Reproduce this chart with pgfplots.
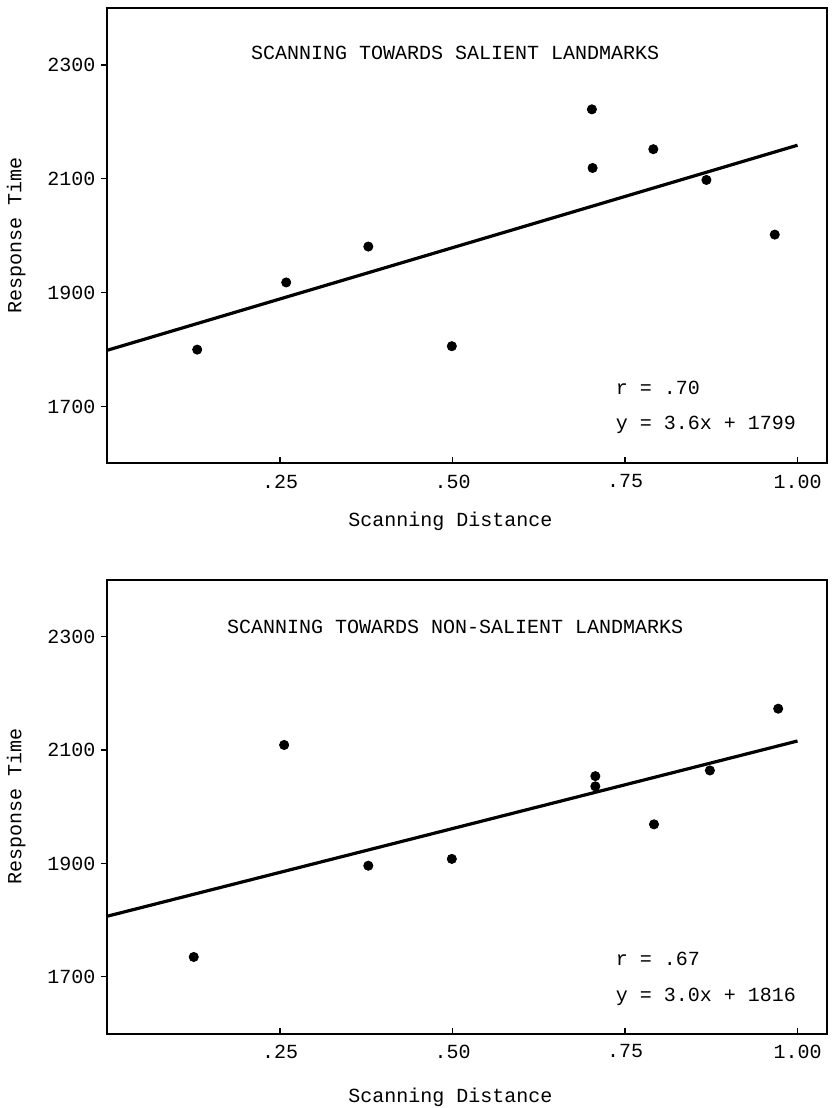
\documentclass[border=0pt]{standalone}
\usepackage{fontspec}
\setmainfont{Liberation Mono}
\usepackage{pgfplots}
\pgfplotsset{compat=1.18}

\pgfplotstableread{
x y
0.130 1800
0.259 1918
0.378 1981
0.499 1806
0.702 2222
0.703 2119
0.791 2152
0.868 2098
0.967 2002
}\salient

\pgfplotstableread{
x y
0.125 1735
0.256 2109
0.378 1896
0.499 1908
0.707 2054
0.707 2036
0.792 1969
0.873 2064
0.972 2173
}\nonsalient

\pgfplotsset{
  panel/.style={
    scale only axis,
    width=359.5pt,
    xmin=0, xmax=1.042,
    ymin=1600, ymax=2400,
    axis line style={line width=1pt},
    xtick={0.25,0.5,0.75,1.0},
    xticklabels={.25,.50,.75,1.00},
    ytick={1700,1900,2100,2300},
    yticklabels={1700,1900,2100,2300},
    xtick pos=bottom, ytick pos=left,
    xtick align=inside, ytick align=outside,
    major tick length=3pt,
    tick style={line width=0.6pt,black},
    /pgf/number format/assume math mode=true,
    tick label style={font=\fontsize{10}{12}\selectfont},
    label style={font=\fontsize{10}{12}\selectfont},
    yticklabel style={anchor=east, xshift=0.5pt},
    xticklabel style={anchor=center, yshift=-9pt},
    ylabel={Response Time},
    ylabel style={at={(axis description cs:-0.127,0.5)}, anchor=center},
    xlabel={Scanning Distance},
    clip=false,
  },
}

\begin{document}
\begin{tikzpicture}
\path[use as bounding box] (0,0) rectangle (415.5pt,554pt);

\begin{axis}[panel,
  at={(53.75pt,322.25pt)}, anchor=south west,
  height=227.75pt,
  xlabel style={at={(axis description cs:0.477,-0.128)}, anchor=center},
]
\addplot[only marks, mark=*, mark size=2.3pt, black] table[x=x,y=y] {\salient};
\addplot[black, line width=1.6pt] coordinates {(0,1799) (1.0,2159)};
\node[font=\fontsize{10}{12}\selectfont] at (axis cs:0.504,2321) {SCANNING TOWARDS SALIENT LANDMARKS};
\node[anchor=west, font=\fontsize{10}{12}\selectfont, inner sep=0pt] at (axis cs:0.736,1733) {r = .70};
\node[anchor=west, font=\fontsize{10}{12}\selectfont, inner sep=0pt] at (axis cs:0.736,1668) {y = 3.6x + 1799};
\end{axis}

\begin{axis}[panel,
  at={(53.75pt,37.25pt)}, anchor=south west,
  height=226.75pt,
  xlabel style={at={(axis description cs:0.477,-0.141)}, anchor=center},
]
\addplot[only marks, mark=*, mark size=2.3pt, black] table[x=x,y=y] {\nonsalient};
\addplot[black, line width=1.6pt] coordinates {(0,1807) (1.0,2116)};
\node[font=\fontsize{10}{12}\selectfont] at (axis cs:0.504,2318) {SCANNING TOWARDS NON-SALIENT LANDMARKS};
\node[anchor=west, font=\fontsize{10}{12}\selectfont, inner sep=0pt] at (axis cs:0.736,1732) {r = .67};
\node[anchor=west, font=\fontsize{10}{12}\selectfont, inner sep=0pt] at (axis cs:0.736,1664) {y = 3.0x + 1816};
\end{axis}
\end{tikzpicture}
\end{document}
